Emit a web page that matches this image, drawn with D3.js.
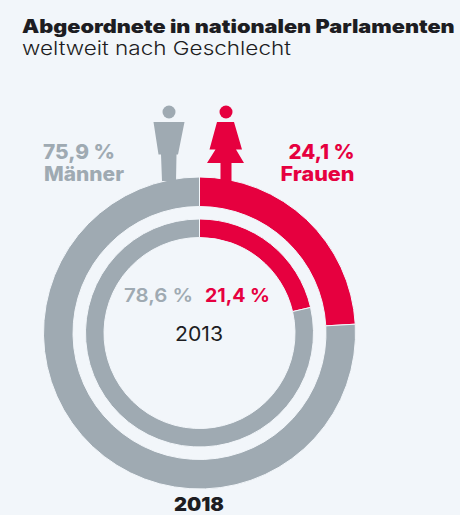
<!DOCTYPE html>
<html><head><meta charset="utf-8">
<script src="https://cdn.jsdelivr.net/npm/d3@7/dist/d3.min.js"></script>
<style>html,body{margin:0;padding:0;background:#f2f6fa}svg{display:block}text{font-family:Inter,"Noto Sans",sans-serif}</style>
</head><body><svg width="460" height="515"></svg>
<script>
const genders = ["Frauen","Männer"];
const values2018 = [24.1,75.9];
const values2013 = [21.4,78.6];
const colors = ["#e6003f","#9faab2"];
const svg = d3.select("svg");
const g = svg.append("g").attr("transform","translate(199.5,333)");
const pie = d3.pie().sort(null);
function ring(vals,r0,r1){
  g.selectAll(null).data(pie(vals)).join("path")
   .attr("d",d3.arc().innerRadius(r0).outerRadius(r1))
   .attr("fill",(d,i)=>colors[i]).attr("stroke","#f2f6fa").attr("stroke-width",1);
}
ring(values2018,126.5,156);
ring(values2013,95.5,114);
function T(x,y,s,size,w,fill,anchor,width){
  const t=svg.append("text").text(s).attr("font-size",size).attr("font-weight",w).attr("fill",fill).attr("text-anchor",anchor||"start");
  const sx=width?width/t.node().getComputedTextLength():1;
  t.attr("transform",`translate(${x},${y}) scale(${sx},1)`);
  return t;
}
const fmt=v=>String(v).replace(".",",")+" %";
T(22,33,"Abgeordnete in nationalen Parlamenten",18.5,900,"#1d1d22","start",433);
T(22,55,"weltweit nach Geschlecht",19,300,"#1d1d22","start",269);
T(43,159,fmt(values2018[1]),20,800,colors[1],"start",72);
T(44,181,genders[1],20,800,colors[1],"start",80);
T(354.5,159,fmt(values2018[0]),20,800,colors[0],"end",66);
T(354.5,181,genders[0],20,800,colors[0],"end",74);
T(124,302,fmt(values2013[1]),19,600,colors[1],"start",69);
T(205,302,fmt(values2013[0]),19,700,colors[0],"start",65);
T(199,341,"2013",20,400,"#1d1d22","middle",48);
T(199,510.5,"2018",19,900,"#1d1d22","middle",50);
// Figures
svg.append("circle").attr("cx",169).attr("cy",112).attr("r",6.5).attr("fill",colors[1]);
svg.append("path").attr("fill",colors[1]).attr("d","M153.5 122H184.5L178 154.5H176.5L176 181H162L161 154.5H158.5Z");
svg.append("circle").attr("cx",226).attr("cy",112).attr("r",6.5).attr("fill",colors[0]);
svg.append("path").attr("fill",colors[0]).attr("d","M217 122H234L242 149.5H236L244 163H231.5V181H220.5V163H207L215.5 149.5H209.5Z");
</script></body></html>
